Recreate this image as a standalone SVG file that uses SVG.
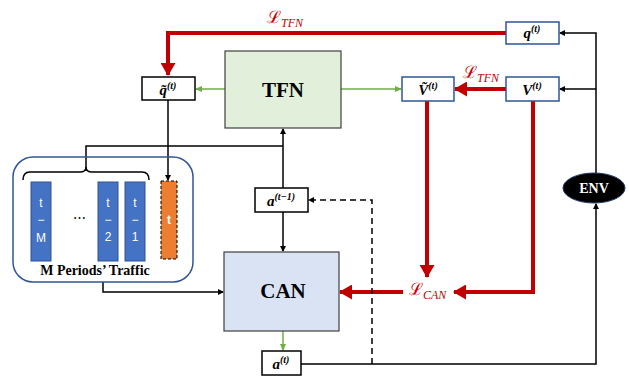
<svg xmlns="http://www.w3.org/2000/svg" width="629" height="379" viewBox="0 0 629 379">
<defs>
<marker id="ab" markerWidth="6" markerHeight="6" refX="5" refY="3" orient="auto" markerUnits="userSpaceOnUse"><path d="M0,0 L6,3 L0,6 Z" fill="#000"/></marker>
<marker id="ag" markerWidth="7" markerHeight="6" refX="6" refY="3" orient="auto" markerUnits="userSpaceOnUse"><path d="M0,0 L7,3 L0,6 Z" fill="#70ad47"/></marker>
<marker id="ar" markerWidth="13" markerHeight="15" refX="12" refY="7.5" orient="auto" markerUnits="userSpaceOnUse"><path d="M0,0 L13,7.5 L0,15 Z" fill="#c00000"/></marker>
<style>
.bl{fill:none;stroke:#000;stroke-width:1.5}
.gr{fill:none;stroke:#70ad47;stroke-width:1.5}
.rd{fill:none;stroke:#c00000;stroke-width:4}
.bx{fill:#fff;stroke:#000;stroke-width:1.5}
.bxb{fill:#fff;stroke:#2f5597;stroke-width:1.5}
.m{font-family:"Liberation Serif",serif;font-weight:bold;font-style:italic;font-size:15px;fill:#000}
.sup{font-size:10px}
.L{font-family:"DejaVu Serif",serif;fill:#c00000;font-size:17px}
.Ls{font-family:"Liberation Serif",serif;font-style:italic;font-size:12px}
.bar{fill:#4472c4;stroke:#2f528f;stroke-width:1}
.bt{font-family:"Liberation Sans",sans-serif;font-size:12px;fill:#fff;text-anchor:middle}
.big{font-family:"Liberation Serif",serif;font-weight:bold;font-size:21px;fill:#000;text-anchor:middle}
</style>
</defs>
<g id="connectors">
<path class="rd" d="M506,33 H168 V75" marker-end="url(#ar)"/>
<path class="rd" d="M506,89 H455" marker-end="url(#ar)"/>
<path class="rd" d="M427,101 V277" marker-end="url(#ar)"/>
<path class="rd" d="M533,101 V292 H454" marker-end="url(#ar)"/>
<path class="rd" d="M403,292 H340" marker-end="url(#ar)"/>
<path class="gr" d="M225,89 H196" marker-end="url(#ag)"/>
<path class="gr" d="M341,89 H401" marker-end="url(#ag)"/>
<path class="gr" d="M283,331 V350" marker-end="url(#ag)"/>
<path class="bl" d="M168,100 V180" marker-end="url(#ab)"/>
<path class="bl" d="M86,171 V146 H283"/>
<path class="bl" d="M283,188 V129" marker-end="url(#ab)"/>
<path class="bl" d="M283,212 V251" marker-end="url(#ab)"/>
<path class="bl" d="M103,282 V292 H223" marker-end="url(#ab)"/>
<path class="bl" d="M301,364 H596 V204" marker-end="url(#ab)"/>
<path class="bl" d="M372,364 V200 H309" stroke-dasharray="6,4" marker-end="url(#ab)"/>
<path class="bl" d="M596,173 V33 H560" marker-end="url(#ab)"/>
<path class="bl" d="M596,89 H560" marker-end="url(#ab)"/>
<path class="bl" d="M23,180 Q23,172 30,172 H80 Q86,172 86,167 Q86,172 92,172 H142 Q149,172 149,180"/>
</g>
<g id="loss_tfn_top"><text x="267" y="23" class="L">ℒ<tspan class="Ls" dy="4">TFN</tspan></text></g>
<g id="loss_tfn_mid"><text x="463" y="78" class="L">ℒ<tspan class="Ls" dy="4">TFN</tspan></text></g>
<g id="loss_can"><text x="409" y="295" class="L">ℒ<tspan class="Ls" dy="4">CAN</tspan></text></g>
<g id="qt_hat"><rect class="bx" x="142" y="77" width="53" height="23"/><text x="168" y="95" class="m" text-anchor="middle">q̃<tspan class="sup" dy="-6">(t)</tspan></text></g>
<g id="TFN"><rect x="225" y="51" width="116" height="77" fill="#e2efda" stroke="#404040" stroke-width="1.2"/><text x="283" y="97" class="big">TFN</text></g>
<g id="Vt_hat"><rect class="bxb" x="402" y="77" width="52" height="24"/><text x="428" y="95" class="m" text-anchor="middle">Ṽ<tspan class="sup" dy="-6">(t)</tspan></text></g>
<g id="Vt"><rect class="bxb" x="506" y="77" width="53" height="24"/><text x="532" y="95" class="m" text-anchor="middle">V<tspan class="sup" dy="-6">(t)</tspan></text></g>
<g id="qt"><rect class="bxb" x="506" y="22" width="53" height="22"/><text x="532" y="38" class="m" text-anchor="middle">q<tspan class="sup" dy="-6">(t)</tspan></text></g>
<g id="ENV"><ellipse cx="594" cy="188" rx="31" ry="15" fill="#000" stroke="#1f3864" stroke-width="1"/><text x="594" y="193" font-family="Liberation Serif,serif" font-weight="bold" font-size="14" fill="#fff" text-anchor="middle">ENV</text></g>
<g id="a_prev"><rect class="bx" x="255" y="188" width="53" height="24"/><text x="281" y="206" class="m" text-anchor="middle">a<tspan class="sup" dy="-6">(t−1)</tspan></text></g>
<g id="CAN"><rect x="224" y="252" width="115" height="79" fill="#dae3f3" stroke="#404040" stroke-width="1.2"/><text x="283" y="298" class="big">CAN</text></g>
<g id="a_t"><rect class="bx" x="262" y="351" width="39" height="24"/><text x="281" y="369" class="m" text-anchor="middle">a<tspan class="sup" dy="-6">(t)</tspan></text></g>
<g id="traffic">
<rect x="13" y="157" width="180" height="125" rx="20" fill="none" stroke="#2f5597" stroke-width="1.5"/>
<rect class="bar" x="31" y="182" width="20" height="79"/>
<text class="bt" x="41" y="207">t</text><text class="bt" x="41" y="224">−</text><text class="bt" x="41" y="242">M</text>
<text x="79" y="222" font-family="Liberation Sans,sans-serif" font-size="13" text-anchor="middle">⋯</text>
<rect class="bar" x="98" y="182" width="20" height="79"/>
<text class="bt" x="108" y="207">t</text><text class="bt" x="108" y="224">−</text><text class="bt" x="108" y="241" font-size="11">2</text>
<rect class="bar" x="125" y="182" width="20" height="79"/>
<text class="bt" x="135" y="207">t</text><text class="bt" x="135" y="224">−</text><text class="bt" x="135" y="241" font-size="11">1</text>
<rect x="161" y="181" width="16" height="78" fill="#ed7d31" stroke="#000" stroke-width="1" stroke-dasharray="3,2"/>
<text class="bt" x="169" y="224" font-weight="bold">t</text>
<text x="95" y="275" font-family="Liberation Serif,serif" font-weight="bold" font-size="14" text-anchor="middle">M Periods’ Traffic</text>
</g>
</svg>
